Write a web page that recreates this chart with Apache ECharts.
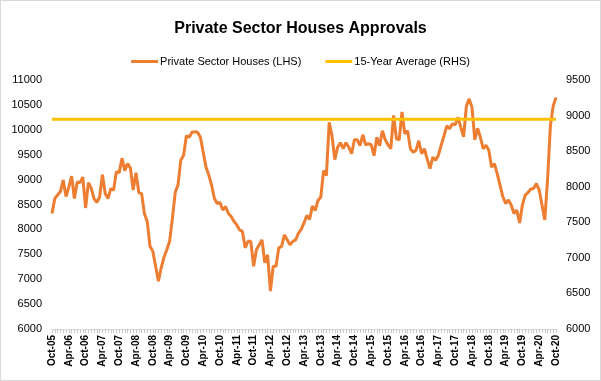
<!DOCTYPE html>
<html>
<head>
<meta charset="utf-8">
<script src="https://cdn.jsdelivr.net/npm/echarts@6/dist/echarts.min.js"></script>
<style>
html,body{margin:0;padding:0;background:#fff;}
#chart{width:599px;height:379px;border:1px solid #d9d9d9;}
</style>
</head>
<body>
<div id="chart"></div>
<script>
// Monthly, Oct-05 .. Oct-20
const startYear = 2005, startMonth = 9; // October (0-based)
const monthCount = 181;
const monthNames = ['Jan','Feb','Mar','Apr','May','Jun','Jul','Aug','Sep','Oct','Nov','Dec'];
const categories = [];
for (let k = 0; k < monthCount; k++) {
  const m = (startMonth + k) % 12;
  const y = startYear + Math.floor((startMonth + k) / 12);
  categories.push(monthNames[m] + '-' + String(y % 100).padStart(2, '0'));
}

const privateSectorHouses = [
  8320, 8620, 8690, 8760, 8990, 8660, 8850, 9070, 8620, 8950,
  8940, 9050, 8430, 8940, 8830, 8620, 8540, 8650, 9100, 8720,
  8620, 8820, 8790, 9160, 9140, 9430, 9180, 9320, 9230, 8790,
  9140, 8740, 8720, 8320, 8160, 7660, 7560, 7260, 6960, 7230,
  7440, 7590, 7760, 8220, 8740, 8890, 9390, 9490, 9880, 9850,
  9950, 9960, 9950, 9850, 9550, 9250, 9090, 8890, 8620, 8520,
  8540, 8390, 8460, 8320, 8260, 8160, 8090, 7990, 7960, 7630,
  7760, 7760, 7260, 7590, 7690, 7790, 7330, 7490, 6760, 7260,
  7260, 7630, 7660, 7890, 7790, 7690, 7760, 7790, 7920, 8000,
  8130, 8280, 8200, 8470, 8380, 8580, 8650, 9180, 9080, 10150,
  9880, 9400, 9650, 9740, 9620, 9740, 9650, 9520, 9800, 9800,
  9680, 9900, 9700, 9720, 9700, 9480, 9850, 9680, 9980, 9800,
  9700, 9620, 10290, 9820, 9800, 10360, 9920, 9980, 9620, 9550,
  9590, 9780, 9520, 9620, 9410, 9220, 9450, 9390, 9490, 9690,
  9880, 10080, 10020, 10120, 10100, 10250, 10050, 9860, 10480, 10620,
  10450, 9800, 10030, 9850, 9620, 9690, 9590, 9250, 9320, 9120,
  8890, 8660, 8520, 8590, 8490, 8320, 8390, 8130, 8490, 8690,
  8740, 8810, 8820, 8920, 8790, 8490, 8190, 9020, 10080, 10480,
  10650
];

const fifteenYearAverageValue = 8950;
const fifteenYearAverage = categories.map(() => fifteenYearAverageValue);

const leftAxisRange = { min: 6000, max: 11000, interval: 500 };
const rightAxisRange = { min: 6000, max: 9500, interval: 500 };

const chart = echarts.init(document.getElementById('chart'));
const fontFam = '"Liberation Sans", Arial, sans-serif';
const plain = v => String(v);
chart.setOption({
  animation: false,
  backgroundColor: '#fff',
  title: {
    text: 'Private Sector Houses Approvals',
    left: 'center',
    top: 15,
    textStyle: { fontFamily: fontFam, fontSize: 16, fontWeight: 'bold', color: '#000' }
  },
  legend: {
    top: 50,
    left: 'center',
    itemWidth: 27,
    itemHeight: 3,
    itemGap: 24,
    icon: 'rect',
    textStyle: { fontFamily: fontFam, fontSize: 11, color: '#000', padding: [0, 0, 0, -3] },
    data: ['Private Sector Houses (LHS)', '15-Year Average (RHS)']
  },
  grid: { left: 51, right: 44, top: 79, bottom: 51, containLabel: false },
  xAxis: {
    type: 'category',
    data: categories,
    boundaryGap: false,
    axisLine: { show: true, lineStyle: { color: '#d9d9d9', width: 1 } },
    axisTick: { show: true, interval: 0, length: 4, lineStyle: { color: '#c8c8c8' } },
    axisLabel: {
      interval: 5,
      rotate: 90,
      margin: 6,
      fontFamily: fontFam,
      fontSize: 10,
      fontWeight: 'bold',
      color: '#000'
    },
    splitLine: { show: false }
  },
  yAxis: [
    {
      type: 'value',
      min: leftAxisRange.min, max: leftAxisRange.max, interval: leftAxisRange.interval,
      axisLine: { show: false }, axisTick: { show: false },
      splitLine: { show: false },
      axisLabel: { fontFamily: fontFam, fontSize: 11, color: '#000', margin: 10, formatter: plain }
    },
    {
      type: 'value',
      min: rightAxisRange.min, max: rightAxisRange.max, interval: rightAxisRange.interval,
      axisLine: { show: false }, axisTick: { show: false },
      splitLine: { show: false },
      axisLabel: { fontFamily: fontFam, fontSize: 11, color: '#000', margin: 10, formatter: plain }
    }
  ],
  series: [
    {
      name: 'Private Sector Houses (LHS)',
      type: 'line',
      yAxisIndex: 0,
      data: privateSectorHouses,
      showSymbol: false,
      symbol: 'none',
      lineStyle: { color: '#ED7D31', width: 3 },
      itemStyle: { color: '#ED7D31' },
      z: 2
    },
    {
      name: '15-Year Average (RHS)',
      type: 'line',
      yAxisIndex: 1,
      data: fifteenYearAverage,
      showSymbol: false,
      symbol: 'none',
      lineStyle: { color: '#FFC000', width: 3 },
      itemStyle: { color: '#FFC000' },
      z: 3
    }
  ]
});
</script>
</body>
</html>
